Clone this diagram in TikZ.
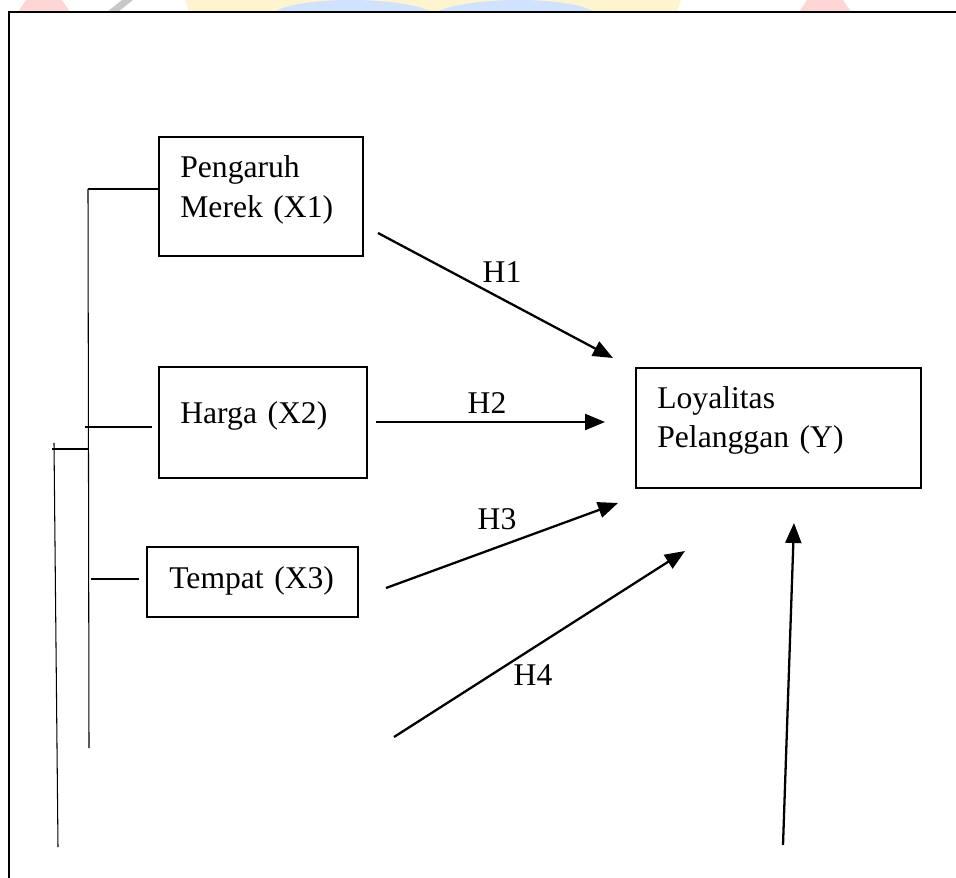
\documentclass[tikz,border=0pt]{standalone}
\usepackage{fontspec}
\setmainfont{Liberation Serif}
\usetikzlibrary{arrows.meta, calc}

\definecolor{wmred}{RGB}{255,214,214}
\definecolor{wmyellow}{RGB}{255,244,208}
\definecolor{wmblue}{RGB}{208,226,255}
\definecolor{wmgray}{RGB}{200,200,200}

\begin{document}
\begin{tikzpicture}[
    x=0.02cm, y=-0.02cm,
    var/.style={draw, line width=1.5pt, inner sep=0},
    txt/.style={font=\fontsize{18}{22.2}\selectfont, align=left, text width=5cm, anchor=base west, inner sep=0},
    hyp/.style={line width=1.3pt, -{Triangle[length=0.4cm, width=0.32cm]}},
    hlbl/.style={font=\fontsize{18}{22.2}\selectfont, inner sep=0},
    link/.style={line width=0.6pt},
]
    \useasboundingbox (0,0) rectangle (956,878);

    % faint logo above the frame
    \fill[wmred] (18,12) -- (70,12) -- (62,0) -- (26,0) -- cycle;
    \fill[wmgray] (107,12) -- (118,12) -- (133,0) -- (122,0) -- cycle;
    \fill[wmyellow] (189,12) -- (677,12) -- (681,0) -- (185,0) -- cycle;
    \fill[wmblue] (274,12) .. controls (300,-4) and (400,-4) .. (432,12) -- cycle;
    \fill[wmblue] (436,12) .. controls (470,-4) and (570,-4) .. (594,12) -- cycle;
    \fill[wmred] (799,12) -- (851,12) -- (843,0) -- (807,0) -- cycle;

    % frame
    \draw[line width=1.5pt] (9,878) -- (9,12) -- (956,12);

    % variables
    \node[var, minimum width=4.08cm, minimum height=2.38cm] (merek) at (261,196.5) {};
    \node[txt] (merektxt) at (180,178) {Pengaruh\\Merek (X1)};

    \node[var, minimum width=4.16cm, minimum height=2.22cm] (harga) at (263,422.5) {};
    \node[txt] (hargatxt) at (180,423) {Harga (X2)};

    \node[var, minimum width=4.22cm, minimum height=1.4cm] (tempat) at (252.5,582) {};
    \node[txt] (tempattxt) at (169,588) {Tempat (X3)};

    \node[var, minimum width=5.7cm, minimum height=2.4cm] (loyal) at (778.5,428) {};
    \node[txt] (loyaltxt) at (657,408) {Loyalitas\\Pelanggan (Y)};

    % bracket on the left
    \coordinate (b1) at (88,189);
    \coordinate (b2) at (89,748);
    \coordinate (b3) at (85,427);
    \coordinate (b4) at (91,579);
    \coordinate (b5) at (52,449);
    \coordinate (b6) at (54,443);
    \coordinate (b7) at (58,847);
    \draw[link] (b1) -- (b2);
    \draw[link] (b1) -- (merek.west |- b1);
    \draw[link] (b3) -- ([xshift=-3]harga.west |- b3);
    \draw[link] (b4) -- ([xshift=-4]tempat.west |- b4);
    \draw[link] (b5) -- (88,449);
    \draw[link] (b6) -- (b7);

    % hypotheses
    \coordinate (h1s) at (378,233);
    \coordinate (h1e) at (613,358);
    \coordinate (h2s) at (376,422);
    \coordinate (h2e) at (605,422);
    \coordinate (h3s) at (386,588);
    \coordinate (h3e) at (618,503);
    \coordinate (h4s) at (394,737);
    \coordinate (h4e) at (685,551);
    \coordinate (ys) at (783,845);
    \coordinate (ye) at (794,523);
    \draw[hyp] (h1s) -- (h1e);
    \draw[hyp] (h2s) -- (h2e);
    \draw[hyp] (h3s) -- (h3e);
    \draw[hyp] (h4s) -- (h4e);
    \draw[hyp] (ys) -- (ye);

    \node[hlbl] (h1) at (502,272) {H1};
    \node[hlbl] (h2) at (487,403) {H2};
    \node[hlbl] (h3) at (497,519) {H3};
    \node[hlbl] (h4) at (533,675) {H4};
\end{tikzpicture}
\end{document}
